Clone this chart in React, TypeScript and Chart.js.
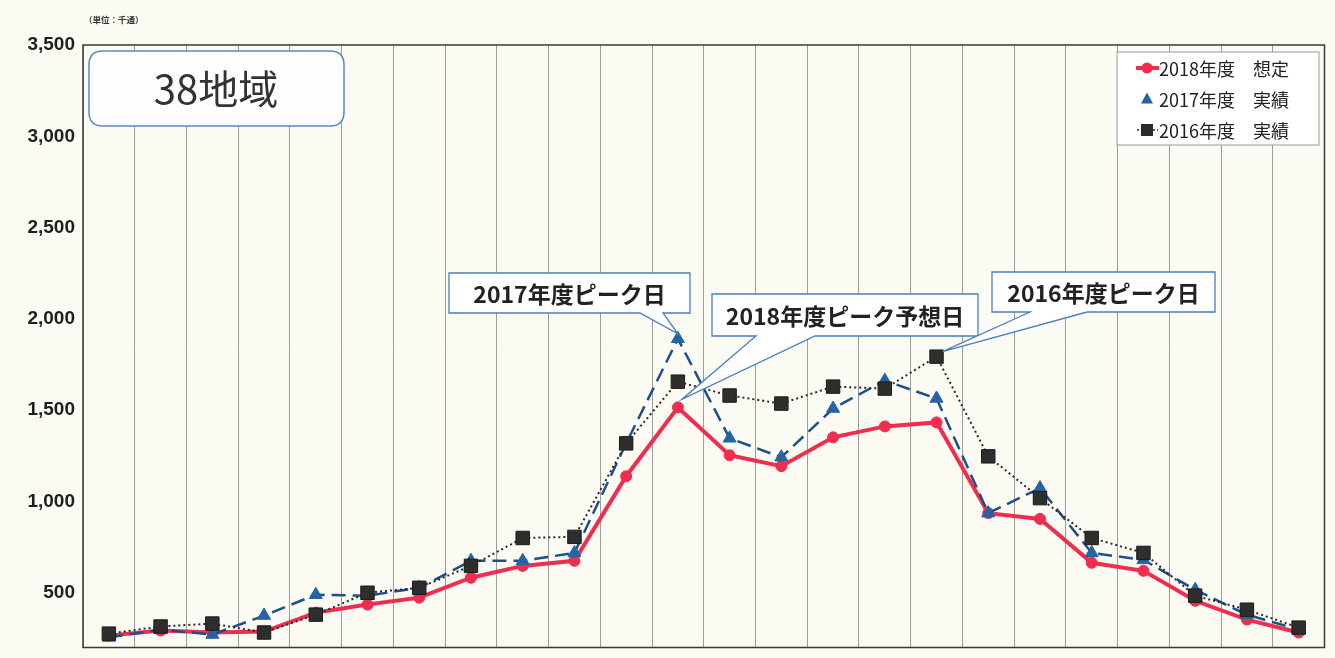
import React, { useEffect, useRef } from 'react';
import { Chart, registerables } from 'chart.js';

Chart.register(...registerables);

// ---- data ----
const days = ['1', '2', '3', '4', '5', '6', '7', '8', '9', '10', '11', '12', '13', '14', '15', '16', '17', '18', '19', '20', '21', '22', '23', '24'];
const seriesNames = ['2018年度　想定', '2017年度　実績', '2016年度　実績'];
const v2018 = [265, 293, 282, 287, 391, 435, 473, 582, 647, 675, 1138, 1515, 1253, 1193, 1351, 1411, 1433, 936, 904, 664, 620, 456, 353, 282];
const v2017 = [255, 298, 271, 375, 489, 484, 527, 675, 675, 718, 1318, 1891, 1346, 1242, 1509, 1662, 1564, 936, 1073, 718, 680, 516, 380, 298];
const v2016 = [276, 315, 331, 282, 380, 500, 527, 647, 800, 806, 1318, 1656, 1580, 1536, 1629, 1618, 1793, 1247, 1018, 800, 718, 484, 407, 309];
const yTicks = [500, 1000, 1500, 2000, 2500, 3000, 3500];
const titleText = '38地域';
const unitText = '（単位：千通）';
const calloutTexts = ['2017年度ピーク日', '2018年度ピーク予想日', '2016年度ピーク日'];

const RED = '#ef2d4e';
const BLUE_LINE = '#1f4f88';
const BLUE_MARK = '#2663a2';
const BLACK = '#2a2a2a';
const CALLOUT_BORDER = '#4a7fbf';
const JP = '"Noto Sans CJK JP", "Noto Sans", sans-serif';

function roundRect(ctx: CanvasRenderingContext2D, x: number, y: number, w: number, h: number, r: number) {
  ctx.beginPath();
  ctx.moveTo(x + r, y);
  ctx.lineTo(x + w - r, y);
  ctx.quadraticCurveTo(x + w, y, x + w, y + r);
  ctx.lineTo(x + w, y + h - r);
  ctx.quadraticCurveTo(x + w, y + h, x + w - r, y + h);
  ctx.lineTo(x + r, y + h);
  ctx.quadraticCurveTo(x, y + h, x, y + h - r);
  ctx.lineTo(x, y + r);
  ctx.quadraticCurveTo(x, y, x + r, y);
  ctx.closePath();
}

function callout(
  ctx: CanvasRenderingContext2D,
  bx: number, by: number, bw: number, bh: number,
  base1: number, base2: number, tipX: number, tipY: number, text: string
) {
  ctx.save();
  ctx.beginPath();
  ctx.moveTo(bx, by);
  ctx.lineTo(bx + bw, by);
  ctx.lineTo(bx + bw, by + bh);
  ctx.lineTo(base2, by + bh);
  ctx.lineTo(tipX, tipY);
  ctx.lineTo(base1, by + bh);
  ctx.lineTo(bx, by + bh);
  ctx.closePath();
  ctx.fillStyle = '#ffffff';
  ctx.fill();
  ctx.strokeStyle = CALLOUT_BORDER;
  ctx.lineWidth = 1.3;
  ctx.stroke();
  ctx.fillStyle = '#222222';
  ctx.font = `bold 23px ${JP}`;
  ctx.textAlign = 'center';
  ctx.textBaseline = 'middle';
  ctx.fillText(text, bx + bw / 2, by + bh / 2 + 1);
  ctx.restore();
}

const decorPlugin = {
  id: 'decor',
  beforeDraw(chart: any) {
    const { ctx, width, height } = chart;
    ctx.save();
    ctx.fillStyle = '#fbfaf3';
    ctx.fillRect(0, 0, width, height);
    ctx.restore();
  },
  afterDraw(chart: any) {
    const { ctx, chartArea } = chart;
    const xs = chart.scales.x;
    const ys = chart.scales.y;
    ctx.save();

    // frame
    ctx.strokeStyle = '#3a3a3a';
    ctx.lineWidth = 1.5;
    ctx.strokeRect(chartArea.left, chartArea.top, chartArea.right - chartArea.left, chartArea.bottom - chartArea.top);

    // unit label
    ctx.fillStyle = '#333';
    ctx.font = `bold 8.5px ${JP}`;
    ctx.textAlign = 'left';
    ctx.textBaseline = 'middle';
    ctx.fillText(unitText, 84, 20);

    // title box
    roundRect(ctx, 89, 51, 255, 75, 14);
    ctx.fillStyle = '#fefefe';
    ctx.fill();
    ctx.strokeStyle = '#5b89c6';
    ctx.lineWidth = 1.5;
    ctx.stroke();
    ctx.fillStyle = '#333333';
    ctx.font = `400 40px ${JP}`;
    ctx.textAlign = 'center';
    ctx.textBaseline = 'middle';
    ctx.fillText(titleText, 216, 89);

    // legend
    const lx = 1117, ly = 52, lw = 202, lh = 93;
    ctx.fillStyle = '#ffffff';
    ctx.fillRect(lx, ly, lw, lh);
    ctx.strokeStyle = '#9a9a9a';
    ctx.lineWidth = 1;
    ctx.strokeRect(lx, ly, lw, lh);
    const rows = [68, 99, 130];
    const mx = 1147;
    // red
    ctx.strokeStyle = RED; ctx.lineWidth = 4;
    ctx.beginPath(); ctx.moveTo(1136, rows[0]); ctx.lineTo(1159, rows[0]); ctx.stroke();
    ctx.fillStyle = RED;
    ctx.beginPath(); ctx.arc(mx, rows[0], 5.5, 0, Math.PI * 2); ctx.fill();
    // triangle
    ctx.fillStyle = BLUE_MARK;
    ctx.beginPath();
    ctx.moveTo(mx, rows[1] - 6.5); ctx.lineTo(mx + 6, rows[1] + 4.5); ctx.lineTo(mx - 6, rows[1] + 4.5); ctx.closePath(); ctx.fill();
    // square
    ctx.strokeStyle = BLACK; ctx.lineWidth = 1.5; ctx.setLineDash([2, 2]);
    ctx.beginPath(); ctx.moveTo(1137, rows[2]); ctx.lineTo(1158, rows[2]); ctx.stroke();
    ctx.setLineDash([]);
    ctx.fillStyle = BLACK;
    ctx.fillRect(mx - 6, rows[2] - 6, 12, 12);
    ctx.fillStyle = '#222';
    ctx.font = `400 18px ${JP}`;
    ctx.textAlign = 'left';
    ctx.textBaseline = 'middle';
    seriesNames.forEach((n, i) => ctx.fillText(n, 1159, rows[i] + 1));

    // callouts
    const p17 = v2017.indexOf(Math.max(...v2017));
    const p18 = v2018.indexOf(Math.max(...v2018));
    const p16 = v2016.indexOf(Math.max(...v2016));
    callout(ctx, 449, 273, 241, 40, 640, 663,
      xs.getPixelForValue(p17), ys.getPixelForValue(v2017[p17]) - 5, calloutTexts[0]);
    callout(ctx, 712, 294, 266, 42, 756, 815,
      xs.getPixelForValue(p18) + 4, ys.getPixelForValue(v2018[p18]) - 8, calloutTexts[1]);
    callout(ctx, 992, 272, 223, 40, 1030, 1087,
      xs.getPixelForValue(p16) + 6, ys.getPixelForValue(v2016[p16]) - 5, calloutTexts[2]);

    ctx.restore();
  },
};

export default function App() {
  const ref = useRef<HTMLCanvasElement>(null);
  useEffect(() => {
    if (!ref.current) return;
    const chart = new Chart(ref.current, {
      type: 'line',
      data: {
        labels: days,
        datasets: [
          {
            label: seriesNames[0], data: v2018, borderColor: RED, backgroundColor: RED,
            borderWidth: 4, pointStyle: 'circle', pointRadius: 5.5, pointBackgroundColor: RED,
            pointBorderColor: RED, pointBorderWidth: 1, order: 3, tension: 0,
          },
          {
            label: seriesNames[1], data: v2017, borderColor: BLUE_LINE, backgroundColor: BLUE_MARK,
            borderWidth: 2.5, borderDash: [14, 7], pointStyle: 'triangle', pointRadius: 7.5,
            pointBackgroundColor: BLUE_MARK, pointBorderColor: BLUE_MARK, pointBorderWidth: 1, order: 2, tension: 0,
          },
          {
            label: seriesNames[2], data: v2016, borderColor: BLACK, backgroundColor: BLACK,
            borderWidth: 2, borderDash: [2, 3], pointStyle: 'rect', pointRadius: 9.5,
            pointBackgroundColor: '#2e2e2e', pointBorderColor: '#1a1a1a', pointBorderWidth: 1, order: 1, tension: 0,
          },
        ],
      },
      options: {
        animation: false,
        responsive: false,
        maintainAspectRatio: false,
        layout: { padding: { top: 45, right: 9, left: 0, bottom: 0 } },
        plugins: { legend: { display: false }, tooltip: { enabled: false } },
        scales: {
          x: {
            type: 'category',
            offset: true,
            grid: { display: true, offset: true, color: '#9c9c9c', lineWidth: 1, drawTicks: false },
            border: { display: false },
            ticks: { display: false },
            afterFit: (s: any) => { s.height = 8; s.paddingLeft = 0; s.paddingRight = 0; },
          },
          y: {
            min: 200,
            max: 3500,
            afterBuildTicks: (a: any) => { a.ticks = yTicks.map((v) => ({ value: v })); },
            grid: { display: false, drawTicks: false },
            border: { display: false },
            ticks: {
              color: '#1e1e1e',
              padding: 8,
              font: { family: '"Liberation Sans", Arial, sans-serif', size: 19, weight: 'bold' },
              callback: (v: any) => Number(v).toLocaleString('en-US'),
            },
            afterFit: (s: any) => { s.width = 83; s.paddingTop = 0; s.paddingBottom = 0; },
          },
        },
      },
      plugins: [decorPlugin],
    } as any);
    return () => chart.destroy();
  }, []);
  return (
    <div style={{ position: 'absolute', left: 0, top: 0, width: 1335, height: 658 }}>
      <canvas ref={ref} width={1335} height={658} style={{ width: 1335, height: 658, display: 'block' }} />
    </div>
  );
}
